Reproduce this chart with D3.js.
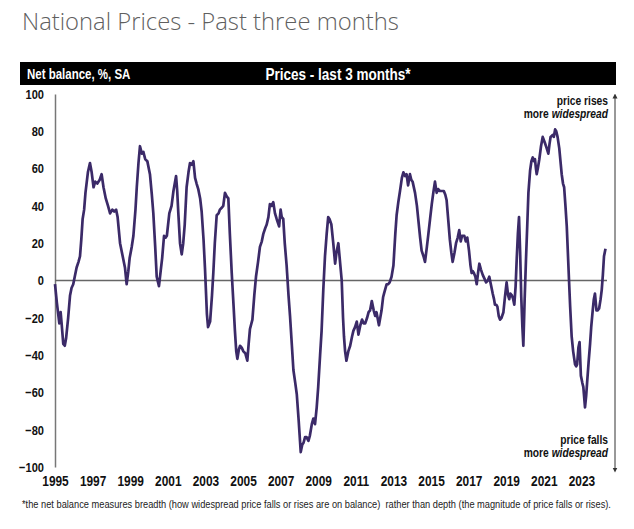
<!DOCTYPE html>
<html><head><meta charset="utf-8">
<script src="https://cdn.jsdelivr.net/npm/d3@7"></script>
<style>
html,body{margin:0;padding:0;background:#fff;}
svg{display:block;}
.narrow{font-family:"Liberation Sans",Arial,sans-serif;}
</style>
</head><body>
<svg id="chart" width="634" height="529"></svg>
<script>
// ---- data (decimal year, net balance %) ----
const dates = [
1995.00,1995.10,1995.23,1995.30,1995.36,1995.44,1995.52,1995.59,1995.70,1995.80,1995.88,1995.97,
1996.05,1996.15,1996.25,1996.33,1996.40,1996.47,1996.55,1996.62,1996.75,1996.86,1996.95,
1997.05,1997.14,1997.25,1997.38,1997.48,1997.58,1997.70,1997.82,1997.93,
1998.05,1998.15,1998.25,1998.33,1998.46,1998.60,1998.72,1998.81,1998.90,1998.97,
1999.08,1999.17,1999.28,1999.35,1999.44,1999.52,1999.62,1999.70,1999.80,1999.91,
2000.05,2000.15,2000.23,2000.33,2000.41,2000.53,2000.62,2000.70,2000.80,2000.88,2000.95,
2001.08,2001.20,2001.30,2001.44,2001.50,2001.56,2001.65,2001.74,2001.82,2001.90,
2002.00,2002.10,2002.18,2002.28,2002.36,2002.45,2002.53,2002.62,2002.72,2002.80,2002.90,2002.98,
2003.08,2003.14,2003.25,2003.35,2003.42,2003.50,2003.60,2003.70,2003.77,2003.87,2003.95,
2004.04,2004.14,2004.22,2004.30,2004.40,2004.50,2004.57,2004.64,2004.70,2004.78,2004.84,2004.93,
2005.02,2005.12,2005.23,2005.30,2005.37,2005.50,2005.60,2005.69,2005.80,2005.90,
2006.00,2006.08,2006.18,2006.26,2006.35,2006.43,2006.52,2006.61,2006.70,2006.79,2006.92,
2007.00,2007.06,2007.14,2007.22,2007.32,2007.42,2007.50,2007.60,2007.68,2007.78,2007.86,2007.96,
2008.07,2008.15,2008.22,2008.30,2008.38,2008.48,2008.56,2008.66,2008.74,2008.83,2008.92,
2009.00,2009.10,2009.18,2009.27,2009.36,2009.45,2009.53,2009.60,2009.70,2009.80,2009.90,2009.97,
2010.07,2010.16,2010.25,2010.32,2010.37,2010.43,2010.50,2010.60,2010.70,2010.80,2010.87,2010.96,
2011.05,2011.14,2011.24,2011.33,2011.42,2011.50,2011.60,2011.68,2011.76,2011.85,2011.95,
2012.03,2012.10,2012.23,2012.37,2012.45,2012.50,2012.64,2012.72,2012.80,2012.90,
2013.00,2013.10,2013.17,2013.26,2013.35,2013.45,2013.53,2013.62,2013.70,2013.78,2013.88,2013.95,
2014.02,2014.15,2014.25,2014.33,2014.42,2014.50,2014.60,2014.68,2014.78,2014.86,2014.95,
2015.04,2015.12,2015.21,2015.30,2015.38,2015.47,2015.57,2015.68,2015.76,2015.83,2015.92,
2016.00,2016.08,2016.15,2016.25,2016.33,2016.42,2016.50,2016.58,2016.65,2016.77,2016.85,2016.93,
2017.02,2017.10,2017.16,2017.22,2017.28,2017.36,2017.43,2017.50,2017.57,2017.65,2017.75,2017.84,2017.93,
2018.02,2018.10,2018.20,2018.28,2018.35,2018.40,2018.47,2018.53,2018.60,2018.67,2018.75,2018.85,2018.93,
2019.02,2019.10,2019.16,2019.22,2019.30,2019.37,2019.43,2019.50,2019.56,2019.62,2019.68,2019.74,2019.80,2019.86,2019.91,2019.98,
2020.05,2020.12,2020.18,2020.27,2020.34,2020.41,2020.47,2020.53,2020.58,2020.62,2020.68,2020.76,2020.85,2020.94,
2021.05,2021.15,2021.24,2021.30,2021.36,2021.47,2021.53,2021.60,2021.66,2021.73,2021.82,2021.95,
2022.02,2022.08,2022.15,2022.22,2022.34,2022.40,2022.48,2022.56,2022.66,2022.72,2022.77,2022.84,2022.90,2022.97,
2023.05,2023.10,2023.19,2023.25,2023.30,2023.38,2023.46,2023.52,2023.60,2023.66,2023.72,2023.80,2023.87,2023.94,
2024.02,2024.08,2024.14,2024.20,2024.28
];
const balance = [
-2,-12,-23,-17,-24,-34,-35,-31,-20,-8,-4,-2,
2,7,10,13,22,33,38,47,58,63,58,
50,53,52,54,57,50,44,40,36,
38,37,38,34,20,13,7,-2,5,12,
18,24,38,50,63,72,68,69,65,64,
57,46,36,18,2,-3,5,12,24,23,24,
36,40,48,56,48,36,20,14,20,30,
50,58,63,62,64,55,52,49,44,37,22,6,
-18,-25,-22,-8,4,20,35,36,38,39,40,
47,45,44,25,4,-14,-27,-38,-42,-37,-35,-36,
-38,-39,-43,-34,-26,-21,-8,2,10,18,
21,25,28,30,34,41,40,42,36,33,29,
38,34,33,20,8,-8,-19,-35,-48,-55,-61,-75,
-92,-88,-87,-84,-84,-86,-83,-77,-74,-77,-68,
-57,-40,-27,-5,13,25,34,33,30,20,9,15,
20,10,0,-20,-30,-38,-43,-38,-35,-30,-27,-25,
-22,-29,-24,-21,-23,-23,-20,-17,-16,-11,-16,
-19,-17,-24,-16,-9,-7,-2,-2,-1,2,
8,25,35,42,48,55,58,56,57,51,57,54,
53,47,40,32,23,16,13,10,18,25,33,
41,47,53,47,49,48,48,48,46,43,32,
22,15,10,15,20,23,27,21,24,24,21,23,
16,8,4,5,4,2,-2,4,9,6,3,1,-1,
0,2,-3,-7,-10,-13,-13,-14,-19,-21,-20,-17,-9,
-1,-8,-10,-7,-8,-10,-13,-3,12,25,34,15,-9,-25,-35,-10,
11,30,47,59,64,66,64,65,60,57,60,65,72,77,
74,71,68,73,77,78,77,81,80,77,71,57,
52,50,40,29,0,-14,-30,-38,-45,-46,-45,-36,-33,-51,
-55,-57,-68,-62,-55,-44,-34,-25,-16,-10,-7,-16,-16,-15,
-10,-5,3,13,17
];
const yTicks = [100,80,60,40,20,0,-20,-40,-60,-80,-100];
const xTickYears = [1995,1997,1999,2001,2003,2005,2007,2009,2011,2013,2015,2017,2019,2021,2023];

const titleText = "National Prices - Past three months";
const headerLeft = "Net balance, %, SA";
const headerCenter = "Prices - last 3 months*";
const footnote = "*the net balance measures breadth (how widespread price falls or rises are on balance)  rather than depth (the magnitude of price falls or rises).";

const NARROW = 0.82;
function narrowText(sel){
  sel.each(function(){
    const w = this.getComputedTextLength();
    this.setAttribute("textLength", (w*NARROW).toFixed(2));
    this.setAttribute("lengthAdjust","spacingAndGlyphs");
  });
}

const svg = d3.select("#chart");

// title
svg.append("text").attr("x",22).attr("y",30)
  .attr("font-family","'Open Sans',sans-serif").attr("font-weight",300)
  .attr("font-size",23.8).attr("fill","#5f5f5f").text(titleText);

// header bar
svg.append("rect").attr("x",20).attr("y",62).attr("width",596).attr("height",23).attr("fill","#000");
svg.append("text").attr("class","narrow").attr("x",27).attr("y",79)
  .attr("font-weight","bold").attr("font-size",14).attr("fill","#fff").text(headerLeft).call(narrowText);
svg.append("text").attr("class","narrow").attr("x",338).attr("y",79.5).attr("text-anchor","middle")
  .attr("font-weight","bold").attr("font-size",16.5).attr("fill","#fff").text(headerCenter).call(narrowText);

// scales
const x = d3.scaleLinear().domain([1995, 2024.28]).range([55, 605.5]);
const y = d3.scaleLinear().domain([-100, 100]).range([467, 94]);

// y axis
const yAxis = d3.axisLeft(y).tickValues(yTicks).tickSize(0).tickPadding(11);
const gy = svg.append("g").attr("transform","translate(55,0)").call(yAxis);
gy.select(".domain").attr("stroke","#777").attr("stroke-width",1.5);
gy.selectAll("text").attr("class","narrow").attr("font-weight","bold").attr("font-size",13.5).attr("fill","#111").call(narrowText);

// x axis labels
const xAxis = d3.axisBottom(x).tickValues(xTickYears).tickFormat(d3.format("d")).tickSize(0).tickPadding(7);
const gx = svg.append("g").attr("transform","translate(0,469)").call(xAxis);
gx.select(".domain").remove();
gx.selectAll("text").attr("class","narrow").attr("font-weight","bold").attr("font-size",14.5).attr("fill","#111").call(narrowText);

// zero line
svg.append("line").attr("x1",55).attr("x2",607).attr("y1",y(0)).attr("y2",y(0))
  .attr("stroke","#666").attr("stroke-width",1.5);

// series line
const pts = dates.map((d,i)=>[d,balance[i]]);
svg.append("path").datum(pts)
  .attr("fill","none").attr("stroke","#3b2a68").attr("stroke-width",2.7)
  .attr("stroke-linejoin","round")
  .attr("d", d3.line().x(d=>x(d[0])).y(d=>y(d[1])));

// right double-ended arrow
const defs = svg.append("defs");
defs.append("marker").attr("id","ah").attr("viewBox","0 0 10 10").attr("refX",5).attr("refY",5)
  .attr("markerWidth",5).attr("markerHeight",6).attr("orient","auto-start-reverse")
  .append("path").attr("d","M0,0 L10,5 L0,10 z").attr("fill","#333");
svg.append("line").attr("x1",615).attr("x2",615).attr("y1",96).attr("y2",470)
  .attr("stroke","#333").attr("stroke-width",1)
  .attr("marker-start","url(#ah)").attr("marker-end","url(#ah)");

// annotations (right-aligned, condensed)
function note(yb, parts){
  const t = svg.append("text").attr("class","narrow")
    .attr("transform",`translate(608,${yb}) scale(${NARROW},1)`)
    .attr("text-anchor","end").attr("font-weight","bold").attr("font-size",12.5).attr("fill","#111");
  parts.forEach(p=>t.append("tspan").attr("font-style",p[1]?"italic":"normal").text(p[0]));
}
note(105,[["price rises",false]]);
note(118,[["more ",false],["widespread",true]]);
note(444,[["price falls",false]]);
note(457,[["more ",false],["widespread",true]]);

// footnote (condensed via transform)
svg.append("text").attr("class","narrow")
  .attr("transform",`translate(22,508) scale(${NARROW},1)`)
  .attr("font-size",11.3).attr("fill","#222").attr("xml:space","preserve").text(footnote);
</script>
</body></html>
